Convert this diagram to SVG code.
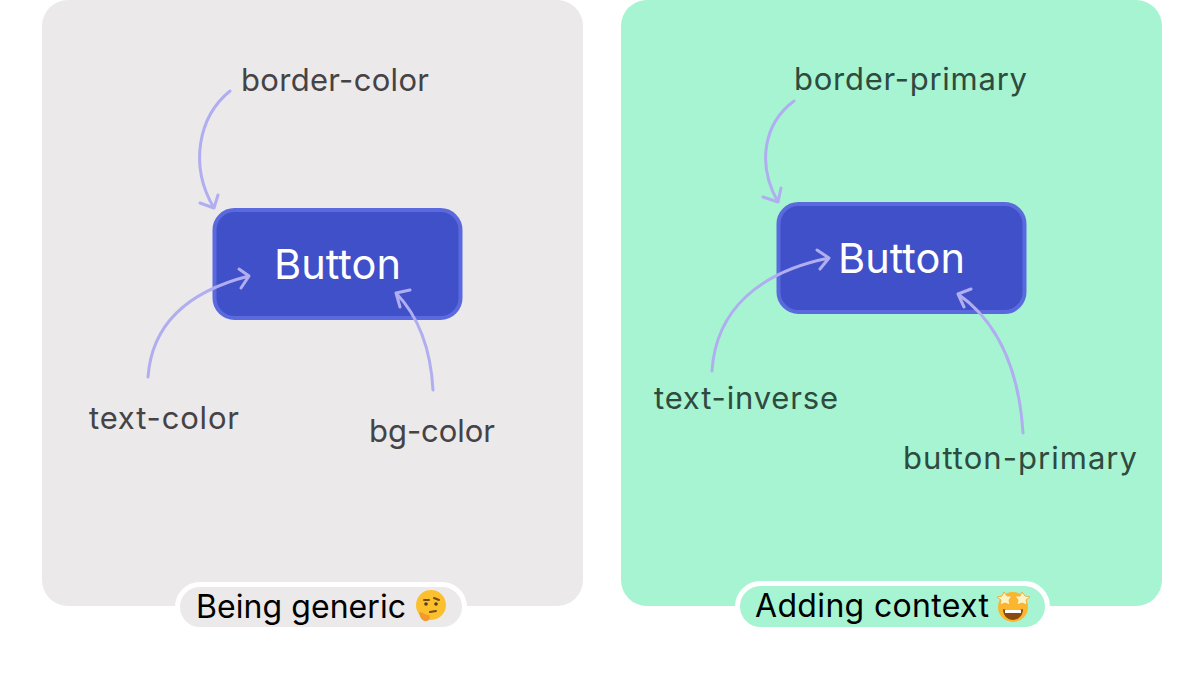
<svg xmlns="http://www.w3.org/2000/svg" width="1200" height="675" viewBox="0 0 1200 675">
<style>
.lbl{font-family:Inter,"Liberation Sans",sans-serif;font-size:31px}
.g{fill:#454344}.m{fill:#2f4a3e}
.btn{fill:#3f50c9;stroke:#5a6ade;stroke-width:4}
.btxt{font-family:Inter,"Liberation Sans",sans-serif;font-size:41.500px;fill:#fff;text-anchor:middle}
.pill{font-family:Inter,"Liberation Sans",sans-serif;font-size:32px;fill:#000}
.arr{fill:none;stroke:#b0aef0;stroke-width:3;stroke-linecap:round;stroke-linejoin:round}
</style>
<rect width="1200" height="675" fill="#fff"/>
<g id="panel-generic"><rect x="42" y="0" width="541" height="606" rx="26" fill="#ebe9ea"/></g>
<g id="panel-context"><rect x="621" y="0" width="541" height="606" rx="26" fill="#a6f4d1"/></g>
<g id="button-generic"><rect class="btn" x="214.500" y="210" width="246" height="108" rx="20"/><text class="btxt" x="337.500" y="279">Button</text></g>
<g id="button-context"><rect class="btn" x="778.500" y="204" width="246" height="108" rx="20"/><text class="btxt" x="901.500" y="273">Button</text></g>
<g id="label-border-color"><text class="lbl g" x="241" y="91" textLength="188" lengthAdjust="spacing">border-color</text></g>
<g id="label-text-color"><text class="lbl g" x="89" y="429" textLength="150" lengthAdjust="spacing">text-color</text></g>
<g id="label-bg-color"><text class="lbl g" x="369" y="442" textLength="126" lengthAdjust="spacing">bg-color</text></g>
<g id="label-border-primary"><text class="lbl m" x="794" y="90" textLength="233" lengthAdjust="spacing">border-primary</text></g>
<g id="label-text-inverse"><text class="lbl m" x="654" y="409" textLength="184" lengthAdjust="spacing">text-inverse</text></g>
<g id="label-button-primary"><text class="lbl m" x="903" y="469" textLength="234" lengthAdjust="spacing">button-primary</text></g>
<g id="connectors">
<path class="arr" d="M230 91C198 117 189 166 214 208M200 203L214 208L218 195"/>
<path class="arr" d="M148 377C152 322 190 291 249 276M239 269L249 276L241 288"/>
<path class="arr" d="M433 390C431 353 421 319 396 293M410 290L396 293L400 307"/>
<path class="arr" d="M712 371C716 309 760 272 829 258M817 250L829 258L820 269"/>
<path class="arr" d="M794 101C763 124 757 165 778 202M763 197L778 202L781 188"/>
<path class="arr" d="M1023 433C1019 370 998 322 958 294M971 289L958 294L964 307"/>
</g>
<g id="caption-generic">
<rect x="177.500" y="584.500" width="287" height="45" rx="22.500" fill="#ebe9ea" stroke="#fff" stroke-width="5"/>
<text class="pill" x="196" y="618" textLength="210" lengthAdjust="spacing">Being generic</text>
<circle cx="431" cy="605" r="15" fill="#fbc02d"/>
<path d="M424 600h5M434 598l5 2" stroke="#7a4a12" stroke-width="2" fill="none" stroke-linecap="round"/>
<circle cx="426" cy="604" r="1.800" fill="#5a3a12"/><circle cx="436" cy="604" r="1.800" fill="#5a3a12"/>
<path d="M430 612l6-1" stroke="#7a4a12" stroke-width="2" stroke-linecap="round"/>
<path d="M420 612c4 1 7 4 9 3c2 2 0 6-2 6c-4 1-7-3-8-8z" fill="#f29a2e"/>
</g>
<g id="caption-context">
<rect x="737.500" y="583.500" width="310" height="46" rx="23" fill="#a6f4d1" stroke="#fff" stroke-width="5"/>
<text class="pill" x="755" y="617" textLength="234" lengthAdjust="spacing">Adding context</text>
<circle cx="1013" cy="607" r="15" fill="#fbb62d"/>
<path d="M1003 609c6 2 14 2 20 0c0 7-5 11-10 11s-10-4-10-11z" fill="#8a4a12"/>
<path d="M1005 610h16v3h-16z" fill="#fff"/>
<path d="M1004 592l3 4 5 0-3 4 1 5-5-2-5 2 1-5-4-3 5-1zM1022 592l3 4 5 1-4 3 1 5-5-2-5 2 1-5-3-4 5 0z" fill="#fff3c4" stroke="#f2b23a" stroke-width="1"/>
</g>
</svg>
